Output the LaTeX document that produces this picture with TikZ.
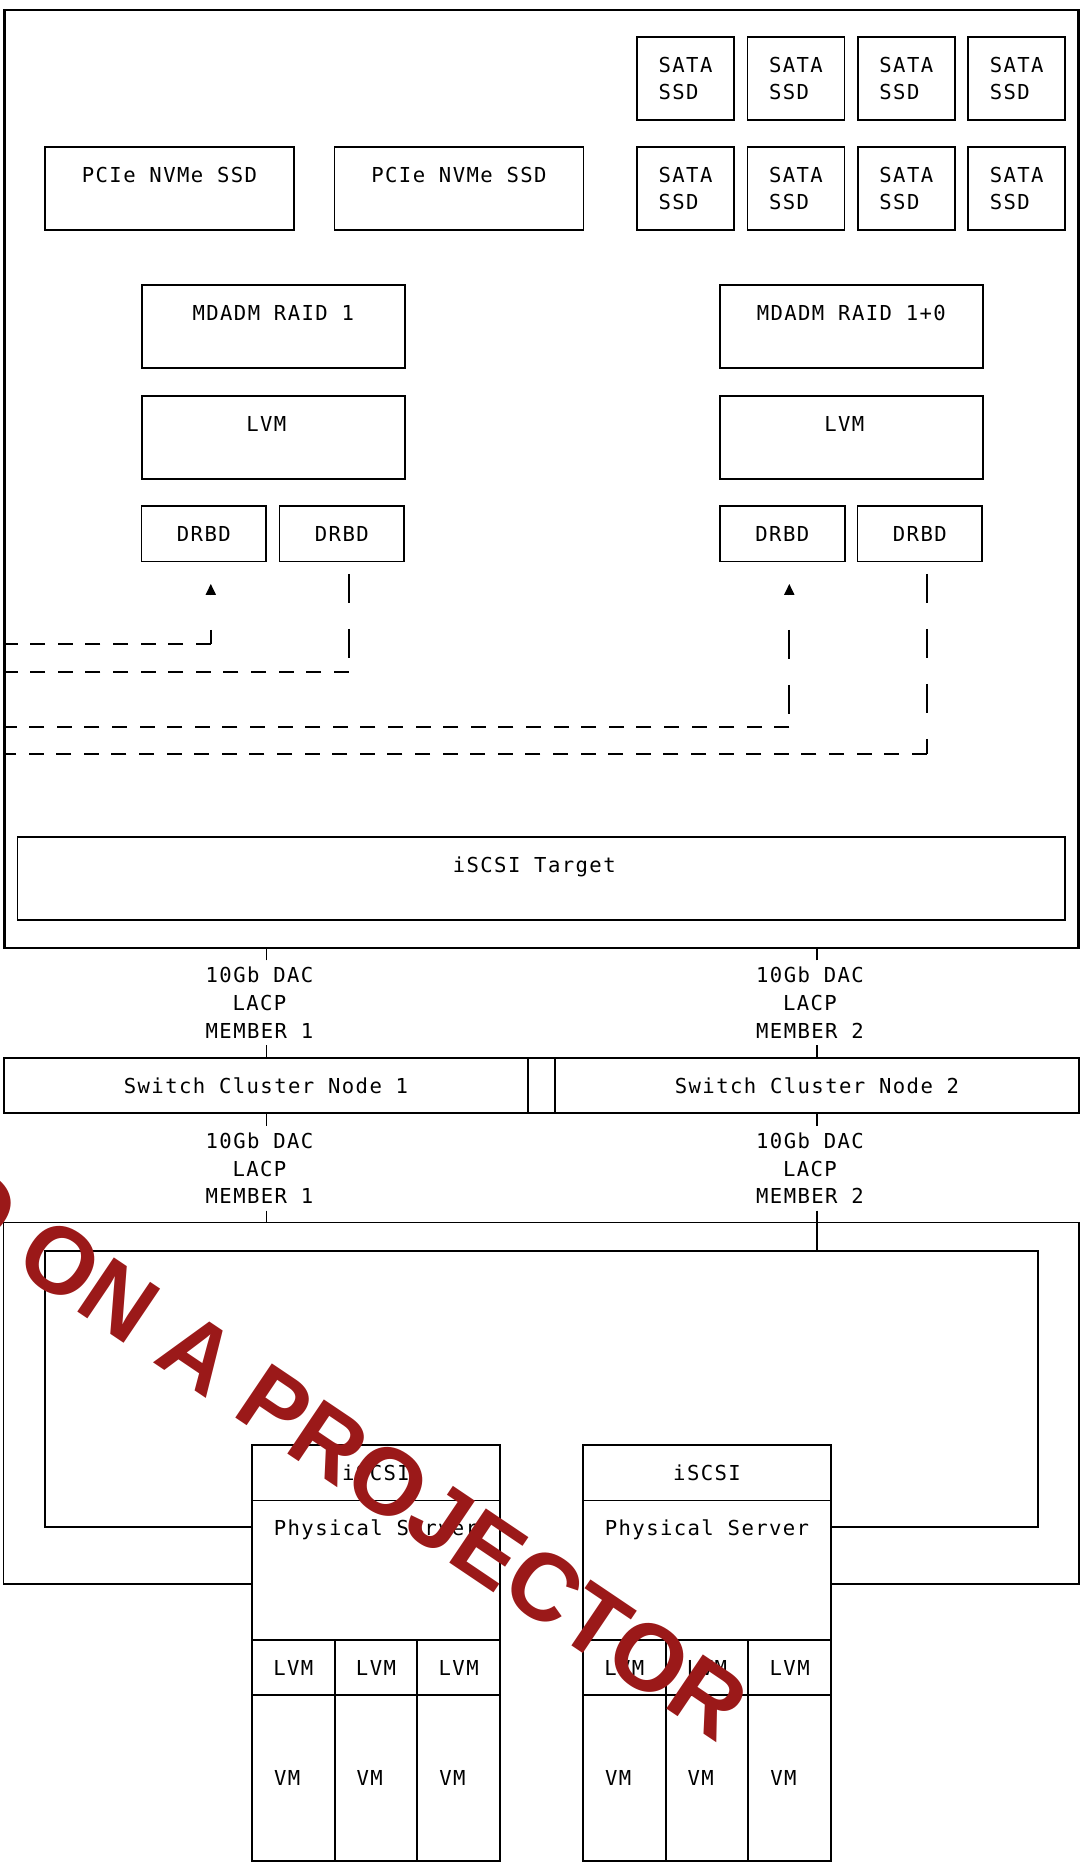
\documentclass[tikz,border=0pt]{standalone}
\usepackage{fontspec}
\usetikzlibrary{positioning, arrows.meta}
\newfontfamily\gridfont[LetterSpace=6.8]{DejaVu Sans Mono}
\newfontfamily\markfont{Liberation Sans}
\definecolor{stampred}{RGB}{155,25,25}
\tikzset{
  box/.style={draw, anchor=north west, inner sep=0pt, outer sep=0pt},
  headed/.style={label={[anchor=base, yshift=-17.6pt]north:#1}},
  sata/.style={box, align=left, minimum width=48.5pt, minimum height=41.5pt},
  disk/.style={box, minimum width=124.5pt, minimum height=41.5pt},
  layer/.style={box, minimum width=131.3pt, minimum height=41.5pt},
  drbd/.style={box, minimum width=62.3pt, minimum height=27.7pt},
  lacp/.style={align=center, inner xsep=0pt, inner ysep=3pt},
  cell/.style={box, minimum width=41.33pt, minimum height=27.5pt},
  vmcell/.style={box, minimum width=41.33pt, minimum height=83pt},
  vdash/.style={line width=1.1pt, dash pattern=on 14.5pt off 13pt},
  hdash/.style={line width=1.1pt, dash pattern=on 7.5pt off 6.3pt},
  drbdtip/.style={-{Triangle[length=5.5pt, width=5pt]}},
  stamp/.style={text=stampred, font=\markfont\bfseries\fontsize{47.5}{50}\selectfont, rotate=-34}
}
\begin{document}
\begin{tikzpicture}[x=0.5pt, y=-0.5pt, line width=0.9pt,
  font=\gridfont\fontsize{10.3}{13.8}\selectfont]
\useasboundingbox (0,0) rectangle (1081,1864);

% storage server
\node[box, line width=1.3pt, minimum width=537pt, minimum height=469pt] (store) at (4.5,10) {};
\node[disk, headed=PCIe NVMe SSD] (nvA) at (45,147) {};
\node[disk, headed=PCIe NVMe SSD] (nvB) at (334.5,147) {};
\foreach \i/\x in {1/637, 2/747.4, 3/857.8, 4/968.2} {
  \node[sata] (sa\i) at (\x,37) {SATA\\SSD};
  \node[sata] (sb\i) at (\x,147) {SATA\\SSD};
}

% raid and lvm
\node[layer, headed=MDADM RAID 1] (mdA) at (142,285) {};
\node[layer, label={[anchor=base, xshift=-3.5pt, yshift=-17.6pt]north:LVM}] (lvA) at (142,396) {};
\node[layer, headed=MDADM RAID 1+0] (mdB) at (720,285) {};
\node[layer, label={[anchor=base, xshift=-3.5pt, yshift=-17.6pt]north:LVM}] (lvB) at (720,396) {};

% drbd
\node[drbd] (drA1) at (141.5,506) {DRBD};
\node[drbd] (drA2) at (279.5,506) {DRBD};
\node[drbd] (drB1) at (720,506) {DRBD};
\node[drbd] (drB2) at (857.5,506) {DRBD};

% replication links
\foreach \d/\c in {drA1/82.5, drA2/110.5, drB1/165.5, drB2/192.5}
  \path (\d.south) ++(7,\c) coordinate (\d-c);
\foreach \d in {drA2, drB2}
  \draw[vdash] (\d.south) ++(7,12.5) -- (\d-c);
\foreach \d in {drA1, drB1} {
  \draw[vdash] (\d.south) ++(7,68.5) -- (\d-c);
  \draw[drbdtip] (\d.south) ++(7,34) -- ++(0,-11.5);
}
\foreach \d in {drA1, drA2, drB1, drB2}
  \draw[hdash] (\d-c) -- (\d-c -| store.west);

\node[box, label={[anchor=base, xshift=-3.5pt, yshift=-17.6pt]north:iSCSI Target},
  minimum width=523.75pt, minimum height=41.5pt] (tgt) at (17.5,837) {};

% switches
\node[box, minimum width=262pt, minimum height=27.5pt] (swA) at (4,1058) {Switch Cluster Node 1};
\node[box, minimum width=262pt, minimum height=27.5pt] (swB) at (555,1058) {Switch Cluster Node 2};
\draw (swA.north east) -- (swB.north west) (swA.south east) -- (swB.south west);

\node[lacp] (lkA) at (259.5,1002.7) {10Gb DAC\\LACP\\MEMBER 1};
\node[lacp] (lkB) at (810,1002.7) {10Gb DAC\\LACP\\MEMBER 2};
\node[lacp] (lkC) at (259.5,1168.2) {10Gb DAC\\LACP\\MEMBER 1};
\node[lacp] (lkD) at (810,1168.2) {10Gb DAC\\LACP\\MEMBER 2};
\draw (lkA.north) ++(7,0) coordinate (t) -- (t |- store.south);
\draw (lkA.south) ++(7,0) coordinate (t) -- (t |- swA.north);
\draw (lkB.north) ++(7,0) coordinate (t) -- (t |- store.south);
\draw (lkB.south) ++(7,0) coordinate (t) -- (t |- swB.north);
\draw (lkC.north) ++(7,0) coordinate (t) -- (t |- swA.south);
\draw (lkD.north) ++(7,0) coordinate (t) -- (t |- swB.south);

% physical servers
\foreach \s/\x in {A/252, B/583} {
  \node[box, minimum width=124pt, minimum height=27.75pt] (is\s) at (\x,1445) {iSCSI};
  \node[box, below=0pt of is\s, minimum width=124pt, minimum height=69.75pt,
    headed=Physical Server] (ps\s) {};
  \node[cell] (lv\s1) at (ps\s.south west) {LVM};
  \node[vmcell, below=0pt of lv\s1] (vm\s1) {VM\hphantom{M}};
  \foreach \i [count=\j from 2] in {1,2} {
    \node[cell, right=0pt of lv\s\i] (lv\s\j) {LVM};
    \node[vmcell, below=0pt of lv\s\j] (vm\s\j) {VM\hphantom{M}};
  }
}

% host network
\coordinate (hoNW) at (3.5,1222.5);
\coordinate (hoSE) at (1078.6,1584);
\coordinate (hiNW) at (45,1251);
\coordinate (hiSE) at (1038,1527);
\draw (psA.west |- hoSE) -| (hoNW) -| (hoSE) -- (psB.east |- hoSE);
\draw (psA.west |- hiSE) -| (hiNW) -| (hiSE) -- (psB.east |- hiSE);
\draw (lkC.south) ++(7,0) coordinate (t) -- (t |- hoNW);
\draw (lkD.south) ++(7,0) coordinate (t) -- (t |- hiNW);

% watermark
\begin{scope}
\clip (0,0) rectangle (1081,1864);
\node[stamp] (mark) at (344,1452) {D ON A PROJECTOR};
\end{scope}
\end{tikzpicture}
\end{document}
